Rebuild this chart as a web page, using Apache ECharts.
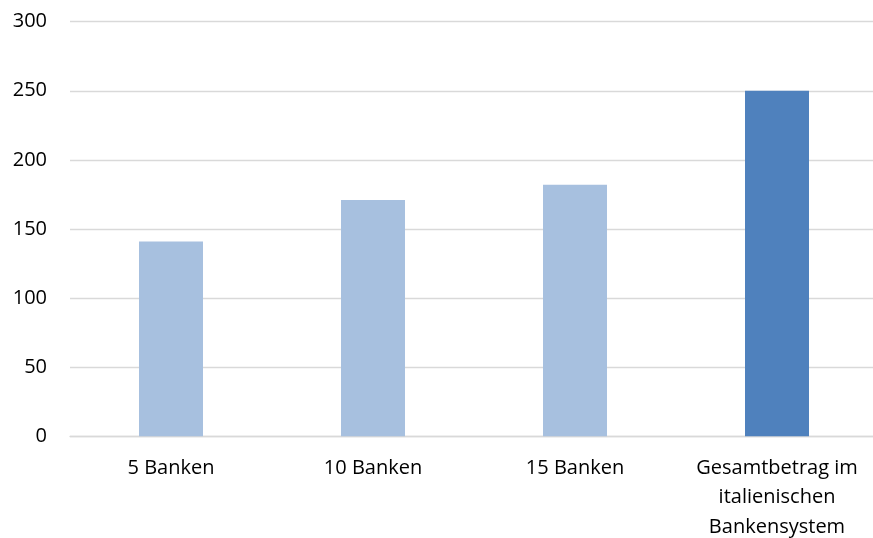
<!DOCTYPE html>
<html>
<head>
<meta charset="utf-8">
<script src="https://cdn.jsdelivr.net/npm/echarts@6/dist/echarts.min.js"></script>
<style>
html,body{margin:0;padding:0;background:#fff;}
#chart{width:873px;height:538px;}
</style>
</head>
<body>
<div id="chart"></div>
<script>
var categories = ['5 Banken', '10 Banken', '15 Banken', 'Gesamtbetrag im\nitalienischen\nBankensystem'];
var values = [141, 171, 182, 250];
var barColors = ['#A7C0DF', '#A7C0DF', '#A7C0DF', '#4F81BD'];

var chart = echarts.init(document.getElementById('chart'));
chart.setOption({
  animation: false,
  grid: { left: 70, width: 808, top: 21.7, height: 414.5, containLabel: false, outerBoundsMode: 'none' },
  xAxis: {
    type: 'category',
    data: categories,
    axisLine: { show: true, lineStyle: { color: '#D9D9D9', width: 1.3 } },
    axisTick: { show: false },
    axisLabel: { color: '#000', fontFamily: 'Open Sans', fontSize: 20, lineHeight: 29.5, margin: 17, interval: 0 }
  },
  yAxis: {
    type: 'value',
    min: 0, max: 300, interval: 50,
    axisLine: { show: false },
    axisTick: { show: false },
    splitLine: { lineStyle: { color: '#D9D9D9', width: 1.3 } },
    axisLabel: { color: '#000', fontFamily: 'Open Sans', fontSize: 20, margin: 23 }
  },
  series: [{
    type: 'bar',
    barWidth: 64,
    data: values.map(function (v, i) { return { value: v, itemStyle: { color: barColors[i] } }; })
  }]
});
</script>
</body>
</html>
